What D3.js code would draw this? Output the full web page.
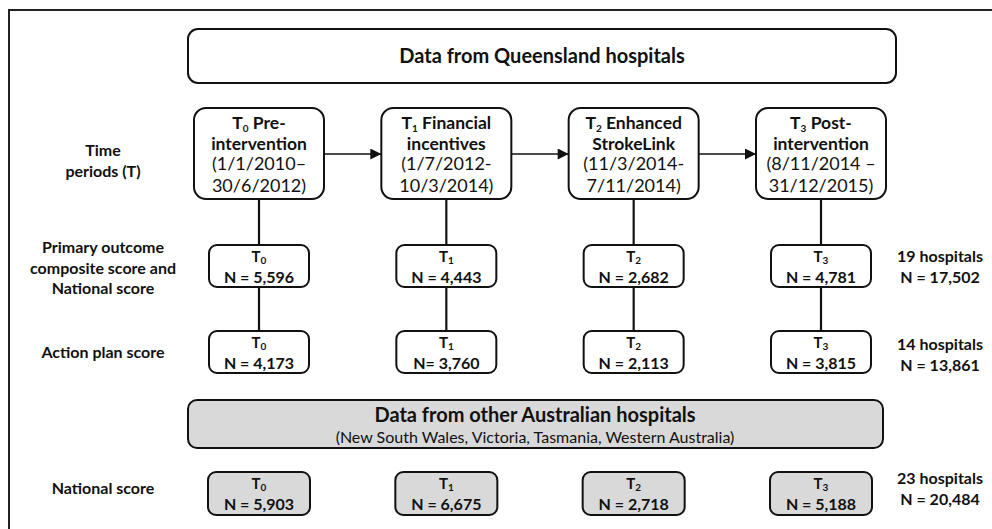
<!DOCTYPE html>
<html>
<head>
<meta charset="utf-8">
<script src="https://cdn.jsdelivr.net/npm/d3@7"></script>
<style>
  body { margin: 0; background: #fff; }
  svg { display: block; font-family: Lato, "Open Sans", sans-serif; }
  .box { fill: #fff; stroke: #111; stroke-width: 2; }
  .box.grey { fill: #d9d9d9; }
  .link { stroke: #111; stroke-width: 2.2; fill: none; }
  text { fill: #111; }
</style>
</head>
<body>
<svg id="chart" width="992" height="529"></svg>
<script>
const periods = ["T0", "T1", "T2", "T3"];
const periodSubs = ["0", "1", "2", "3"];
const periodNames = [["Pre-", "intervention"], ["Financial", "incentives"], ["Enhanced", "StrokeLink"], ["Post-", "intervention"]];
const periodDates = [["(1/1/2010–", "30/6/2012)"], ["(1/7/2012-", "10/3/2014)"], ["(11/3/2014-", "7/11/2014)"], ["(8/11/2014 –", "31/12/2015)"]];

const primaryN = ["N = 5,596", "N = 4,443", "N = 2,682", "N = 4,781"];
const actionN = ["N = 4,173", "N= 3,760", "N = 2,113", "N = 3,815"];
const nationalN = ["N = 5,903", "N = 6,675", "N = 2,718", "N = 5,188"];

const rowLabels = [["Time", "periods (T)"], ["Primary outcome", "composite score and", "National score"], ["Action plan score"], ["National score"]];
const totals = [null, ["19 hospitals", "N = 17,502"], ["14 hospitals", "N = 13,861"], ["23 hospitals", "N = 20,484"]];

const svg = d3.select("#chart");

// outer frame (cut off by the picture edge on the right and bottom)
svg.append("rect").attr("x", 9).attr("y", 10).attr("width", 1000).attr("height", 540)
  .attr("fill", "none").attr("stroke", "#222").attr("stroke-width", 2);

const x = d3.scalePoint().domain(periods).range([259, 821]);

const rows = [
  { y: 108, h: 91, w: 130 },
  { y: 245, h: 42, w: 100 },
  { y: 331, h: 42, w: 100 },
  { y: 472, h: 43, w: 102 }
];

// header boxes
const header1 = svg.append("g");
header1.append("rect").attr("class", "box").attr("x", 188).attr("y", 29).attr("width", 708).attr("height", 54).attr("rx", 10);
header1.append("text").attr("x", 542).attr("y", 63).attr("text-anchor", "middle")
  .attr("font-size", 20).attr("font-weight", 700).text("Data from Queensland hospitals");

const header2 = svg.append("g");
header2.append("rect").attr("class", "box grey").attr("x", 188).attr("y", 400).attr("width", 695).attr("height", 48).attr("rx", 9);
header2.append("text").attr("x", 535).attr("y", 422).attr("text-anchor", "middle")
  .attr("font-size", 20).attr("font-weight", 700).text("Data from other Australian hospitals");
header2.append("text").attr("x", 535).attr("y", 443).attr("text-anchor", "middle")
  .attr("font-size", 16).text("(New South Wales, Victoria, Tasmania, Western Australia)");

// vertical connectors
const links = svg.append("g");
periods.forEach((p) => {
  links.append("line").attr("class", "link")
    .attr("x1", x(p)).attr("x2", x(p))
    .attr("y1", rows[0].y + rows[0].h).attr("y2", rows[2].y);
});

// horizontal arrows
svg.append("defs").append("marker").attr("id", "arrow")
  .attr("viewBox", "0 0 10 10").attr("refX", 10).attr("refY", 5)
  .attr("markerWidth", 12).attr("markerHeight", 11).attr("markerUnits", "userSpaceOnUse")
  .attr("orient", "auto")
  .append("path").attr("d", "M0,0L10,5L0,10Z").attr("fill", "#111");

const arrowY = 154;
periods.slice(0, -1).forEach((p, i) => {
  links.append("line").attr("stroke", "#111").attr("stroke-width", 1.5)
    .attr("x1", x(p) + rows[0].w / 2).attr("x2", x(periods[i + 1]) - rows[0].w / 2)
    .attr("y1", arrowY).attr("y2", arrowY)
    .attr("marker-end", "url(#arrow)");
});

// period boxes
const periodG = svg.append("g").selectAll("g").data(periods).join("g")
  .attr("transform", (d) => `translate(${x(d)},${rows[0].y})`);
periodG.append("rect").attr("class", "box")
  .attr("x", -rows[0].w / 2).attr("width", rows[0].w).attr("height", rows[0].h).attr("rx", 12);
periodG.each(function (d, i) {
  const g = d3.select(this);
  const t1 = g.append("text").attr("text-anchor", "middle").attr("y", 21).attr("font-size", 17.5).attr("font-weight", 700);
  t1.append("tspan").text("T");
  t1.append("tspan").attr("font-size", 10).attr("dy", 2.5).text(periodSubs[i]);
  t1.append("tspan").attr("dy", -2.5).text(" " + periodNames[i][0]);
  g.append("text").attr("text-anchor", "middle").attr("y", 42).attr("font-size", 17.5).attr("font-weight", 700).text(periodNames[i][1]);
  g.append("text").attr("text-anchor", "middle").attr("y", 62).attr("font-size", 18).text(periodDates[i][0]);
  g.append("text").attr("text-anchor", "middle").attr("y", 84).attr("font-size", 18).text(periodDates[i][1]);
});

// count boxes
const countRows = [primaryN, actionN, nationalN];
countRows.forEach((vals, r) => {
  const row = rows[r + 1];
  const grey = r === 2;
  const g = svg.append("g").selectAll("g").data(periods).join("g")
    .attr("transform", (d) => `translate(${x(d)},${row.y})`);
  g.append("rect").attr("class", grey ? "box grey" : "box")
    .attr("x", -row.w / 2).attr("width", row.w).attr("height", row.h).attr("rx", 8);
  const t = g.append("text").attr("text-anchor", "middle").attr("y", 17).attr("font-size", 15).attr("font-weight", 700);
  t.append("tspan").text("T");
  t.append("tspan").attr("font-size", 10).attr("dy", 2).text((d, i) => periodSubs[i]);
  g.append("text").attr("text-anchor", "middle").attr("y", 38).attr("font-size", 16).attr("font-weight", 700)
    .text((d, i) => vals[i]);
});

// row labels on the left
const labelY = [150, 247, 352, 488];
rowLabels.forEach((lines, r) => {
  const t = svg.append("text").attr("text-anchor", "middle").attr("x", 103)
    .attr("font-size", 16).attr("font-weight", 700);
  const y0 = labelY[r] + 6;
  lines.forEach((ln, k) => {
    t.append("tspan").attr("x", 103).attr("y", y0 + k * 20.5).text(ln);
  });
});

// totals on the right
const totalY = [null, 256, 344, 478];
totals.forEach((lines, r) => {
  if (!lines) return;
  const t = svg.append("text").attr("text-anchor", "middle").attr("x", 940)
    .attr("font-size", 16).attr("font-weight", 700);
  lines.forEach((ln, k) => {
    t.append("tspan").attr("x", 940).attr("y", totalY[r] + 6 + k * 21).text(ln);
  });
});
</script>
</body>
</html>
